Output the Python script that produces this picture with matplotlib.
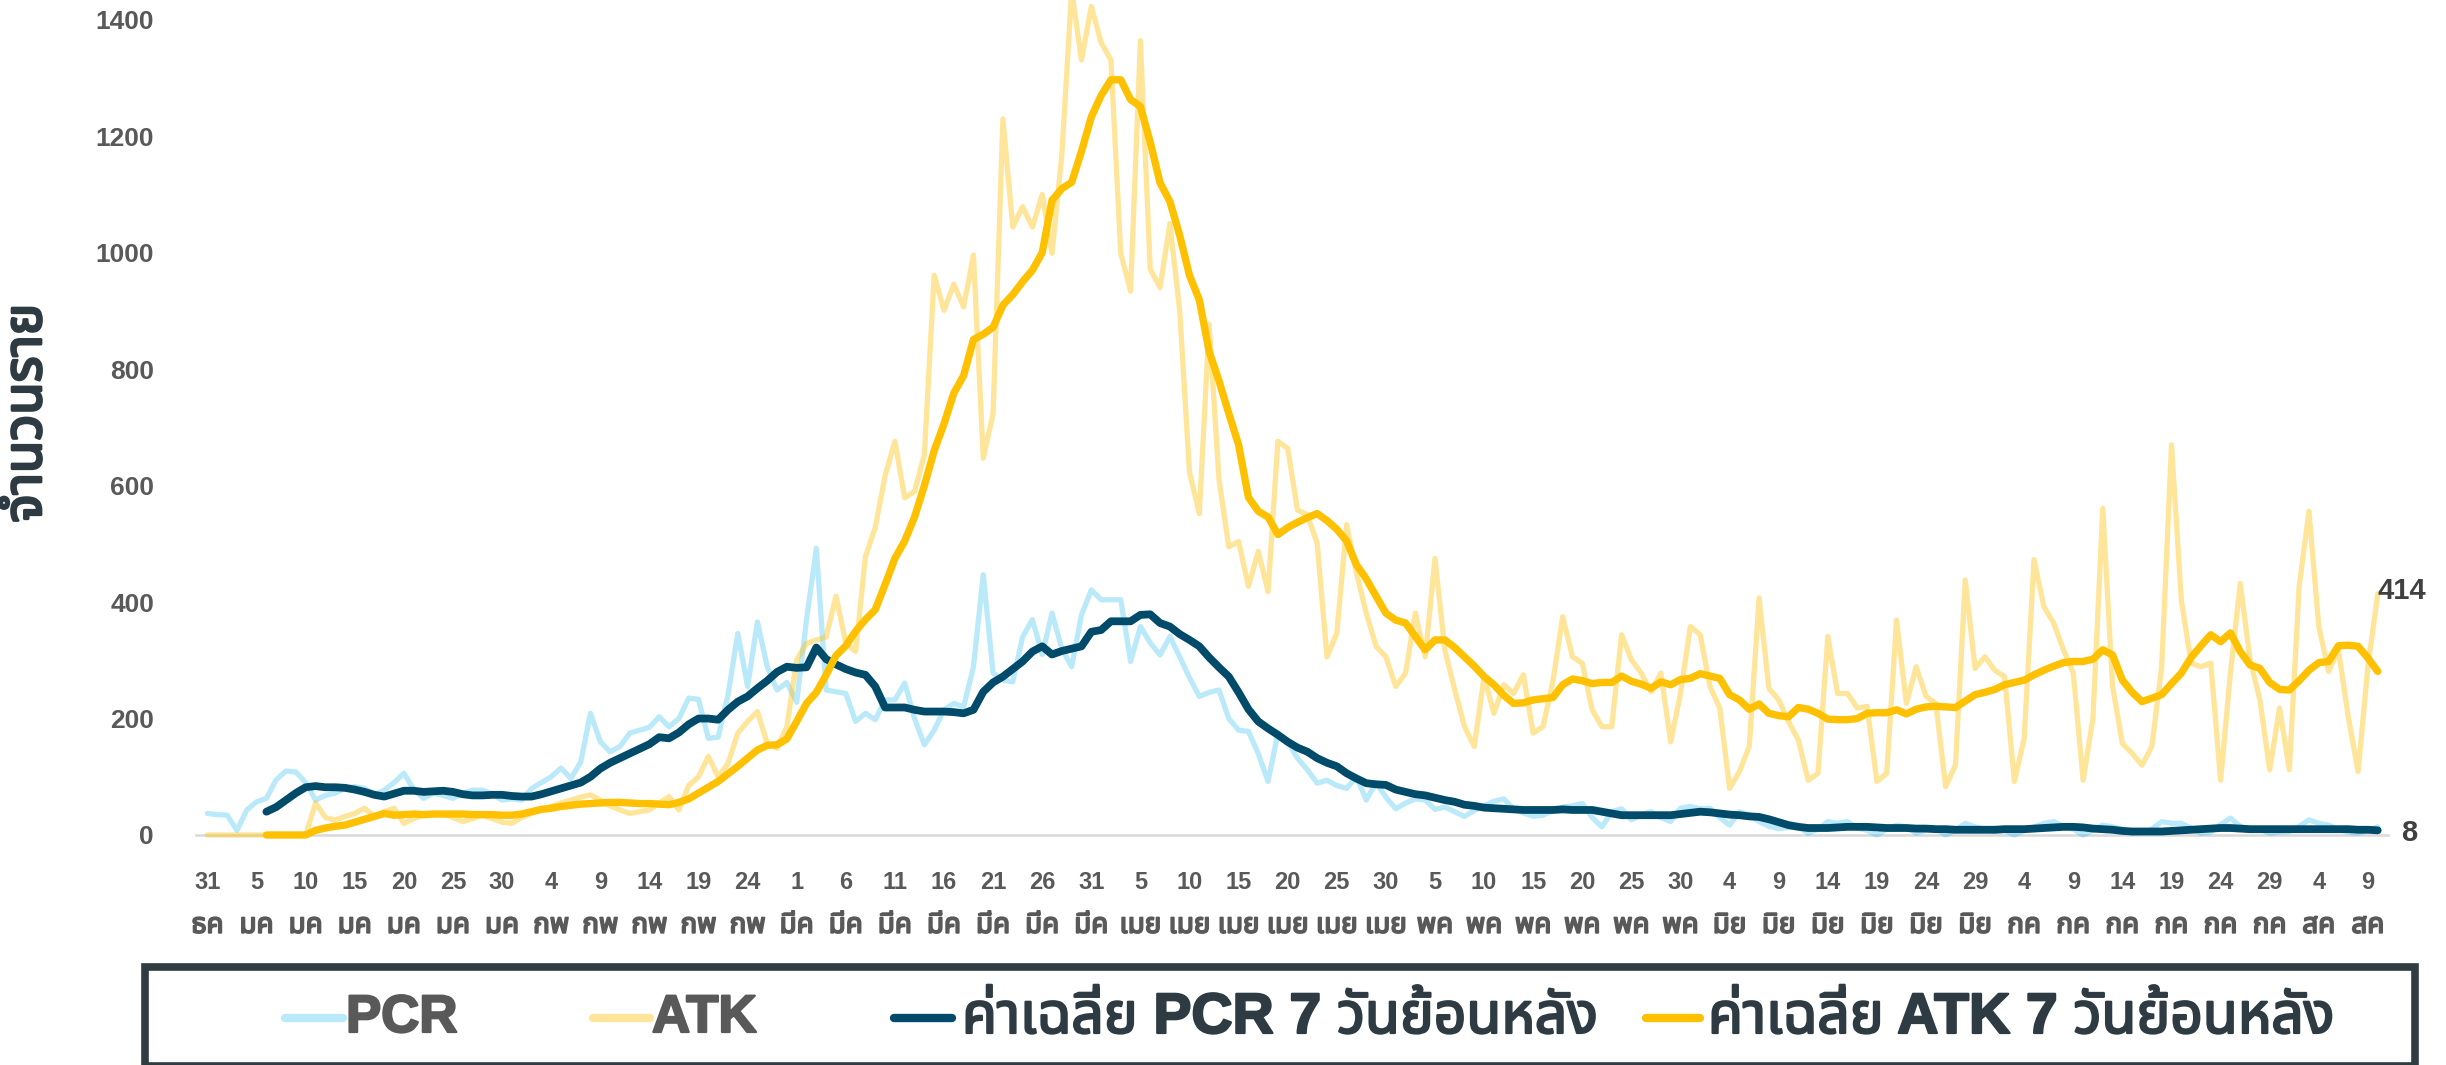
import numpy as np
import matplotlib
matplotlib.use("Agg")
import matplotlib.pyplot as plt
from matplotlib import font_manager as fm
from matplotlib.lines import Line2D
from matplotlib.patches import Rectangle
import matplotlib.patheffects as pe

# ---------------- data ----------------
day_labels = ["31", "5", "10", "15", "20", "25", "30", "4", "9", "14", "19", "24",
              "1", "6", "11", "16", "21", "26", "31", "5", "10", "15", "20", "25", "30",
              "5", "10", "15", "20", "25", "30", "4", "9", "14", "19", "24", "29",
              "4", "9", "14", "19", "24", "29", "4", "9"]
month_labels = ["ธค", "มค", "มค", "มค", "มค", "มค", "มค", "กพ", "กพ", "กพ", "กพ", "กพ",
                "มีค", "มีค", "มีค", "มีค", "มีค", "มีค", "มีค", "เมย", "เมย", "เมย", "เมย", "เมย", "เมย",
                "พค", "พค", "พค", "พค", "พค", "พค", "มิย", "มิย", "มิย", "มิย", "มิย", "มิย",
                "กค", "กค", "กค", "กค", "กค", "กค", "สค", "สค"]

pcr = [37, 35, 34, 8, 43, 57, 63, 95, 110, 108, 90, 60, 68, 72, 80, 83, 80, 69, 77, 90,
       106, 78, 63, 72, 68, 63, 72, 77, 77, 70, 60, 62, 60, 80, 90, 100, 115, 97, 125, 209,
       160, 143, 152, 175, 180, 185, 203, 186, 200, 235, 233, 166, 168, 240, 346, 255, 366, 289, 249, 262,
       228, 370, 492, 249, 246, 243, 195, 209, 198, 232, 232, 261, 200, 155, 180, 215, 226, 220, 289, 447,
       278, 266, 263, 340, 370, 310, 381, 320, 289, 378, 421, 404, 404, 404, 298, 358, 330, 309, 341, 306,
       270, 238, 245, 249, 200, 180, 178, 140, 92, 175, 160, 132, 112, 89, 94, 85, 80, 100, 60, 90,
       65, 45, 55, 62, 60, 44, 48, 40, 32, 42, 50, 58, 62, 45, 38, 32, 34, 42, 48, 50,
       54, 30, 14, 40, 45, 26, 35, 40, 30, 23, 46, 49, 45, 46, 30, 17, 40, 35, 23, 15,
       11, 13, 14, 3, 10, 23, 20, 23, 12, 8, 0, 10, 17, 14, 3, 8, 12, 0, 8, 20,
       14, 10, 6, 8, 0, 8, 14, 20, 23, 15, 10, 0, 8, 17, 14, 10, 3, 5, 10, 23,
       20, 20, 12, 3, 5, 18, 29, 15, 8, 10, 3, 5, 6, 15, 26, 20, 17, 10, 5, 3,
       8, 14]

atk = [0, 0, 0, 0, 0, 0, 0, 0, 0, 0, 0, 55, 30, 26, 32, 37, 46, 31, 40, 46,
       20, 28, 34, 35, 37, 30, 23, 28, 34, 28, 22, 20, 30, 37, 43, 49, 55, 60, 65, 69,
       60, 50, 43, 37, 40, 43, 55, 66, 43, 85, 100, 135, 100, 123, 175, 195, 212, 157, 149, 186,
       301, 329, 335, 340, 410, 330, 315, 478, 528, 617, 676, 579, 590, 653, 961, 901, 946, 907, 996, 647,
       724, 1230, 1044, 1079, 1044, 1100, 999, 1168, 1450, 1331, 1423, 1361, 1331, 999, 934, 1364, 972, 940, 1050, 901,
       623, 552, 877, 611, 495, 504, 427, 487, 418, 676, 664, 558, 550, 501, 306, 346, 533, 450, 381, 324,
       306, 255, 278, 381, 306, 475, 318, 250, 186, 152, 272, 209, 258, 243, 275, 175, 186, 263, 375, 306,
       295, 215, 186, 186, 344, 301, 278, 246, 278, 160, 243, 358, 344, 255, 218, 80, 109, 152, 407, 252,
       232, 195, 163, 94, 106, 341, 243, 243, 218, 221, 92, 106, 369, 226, 289, 238, 226, 83, 120, 438,
       286, 306, 283, 272, 92, 166, 473, 392, 364, 318, 278, 94, 200, 561, 255, 157, 140, 120, 152, 289,
       670, 404, 295, 289, 295, 94, 278, 432, 301, 232, 112, 218, 112, 427, 556, 358, 281, 318, 203, 109,
       289, 414]

pcr_avg = [None] * 6 + [
    40, 48, 60, 72, 82, 84, 82, 82, 81, 78, 74, 69, 66, 71,
    76, 76, 74, 75, 76, 74, 70, 68, 68, 69, 69, 67, 66, 66, 70, 75, 80, 85, 90, 100,
    114, 124, 132, 140, 148, 156, 168, 166, 176, 190, 200, 200, 198, 215, 229, 238, 252, 265, 280, 289,
    287, 288, 322, 302, 293, 285, 279, 275, 255, 219, 219, 219, 215, 212, 212, 212, 211, 209, 215, 246,
    262, 272, 285, 298, 315, 324, 310, 316, 320, 324, 349, 352, 367, 367, 367, 378, 379, 364, 358, 345,
    335, 324, 305, 288, 272, 245, 216, 195, 183, 172, 160, 150, 143, 132, 124, 118, 106, 97, 89, 87,
    86, 78, 74, 70, 68, 64, 60, 57, 52, 50, 47, 46, 45, 44, 43, 43, 43, 43, 44, 43,
    43, 43, 40, 37, 34, 34, 34, 34, 34, 34, 36, 38, 40, 39, 37, 35, 34, 32, 31, 27,
    22, 17, 14, 12, 12, 12, 13, 14, 14, 14, 13, 12, 12, 12, 11, 11, 10, 10, 9, 9,
    9, 9, 9, 10, 10, 10, 11, 12, 13, 14, 14, 13, 11, 10, 9, 7, 6, 6, 6, 6,
    7, 8, 9, 10, 11, 12, 12, 11, 10, 10, 10, 10, 10, 10, 10, 10, 10, 10, 10, 9,
    9, 8]

atk_avg = [None] * 6 + [
    0, 0, 0, 0, 0, 8, 12, 15, 17, 22, 27, 32, 37, 34,
    35, 36, 35, 36, 36, 36, 36, 35, 35, 35, 34, 34, 36, 40, 44, 46, 49, 51, 53, 54,
    55, 56, 56, 55, 54, 54, 53, 52, 56, 62, 72, 82, 92, 105, 118, 132, 146, 154, 155, 165,
    195, 226, 245, 275, 308, 325, 350, 370, 387, 430, 475, 505, 546, 600, 660, 706, 759, 789, 851, 860,
    872, 910, 928, 950, 970, 1000, 1090, 1110, 1121, 1174, 1233, 1270, 1297, 1297, 1263, 1251, 1190, 1120, 1088, 1030,
    961, 919, 830, 780, 724, 670, 580, 556, 546, 516, 528, 537, 545, 552, 540, 525, 505, 464, 440, 410,
    381, 369, 364, 341, 318, 335, 335, 322, 306, 290, 272, 258, 240, 226, 227, 232, 234, 236, 258, 268,
    265, 260, 262, 262, 273, 264, 259, 252, 263, 258, 267, 269, 277, 273, 269, 241, 232, 216, 225, 209,
    205, 203, 219, 216, 209, 199, 198, 198, 200, 209, 210, 210, 215, 208, 216, 220, 221, 220, 219, 230,
    241, 245, 250, 258, 262, 266, 275, 283, 290, 296, 298, 298, 302, 318, 309, 266, 245, 229, 235, 241,
    260, 278, 305, 325, 344, 332, 347, 315, 292, 286, 262, 250, 249, 265, 283, 296, 298, 325, 326, 324,
    304, 281]

series_names = ["PCR", "ATK", "ค่าเฉลี่ย PCR 7 วันย้อนหลัง", "ค่าเฉลี่ย ATK 7 วันย้อนหลัง"]
y_label = "จำนวนราย"
y_ticks = [0, 200, 400, 600, 800, 1000, 1200, 1400]

# ---------------- fonts ----------------
def available(name):
    return any(f.name == name for f in fm.fontManager.ttflist)

def thai_family():
    try:
        from fontTools.ttLib import TTFont
    except Exception:
        return None
    seen = {}
    for fe in fm.fontManager.ttflist:
        if fe.name in seen or "CJK" in fe.name:
            continue
        ok = False
        try:
            tt = TTFont(fe.fname, fontNumber=0, lazy=True)
            cm = tt.getBestCmap() or {}
            ok = (0x0E04 in cm and 0x0E27 in cm and 0x0E48 in cm)
            tt.close()
        except Exception:
            ok = False
        seen[fe.name] = ok
    cands = [n for n, ok in seen.items() if ok]
    def rank(n):
        order = ["Noto Sans Thai", "Noto Sans Thai UI", "Loma", "Garuda", "Waree", "Sarabun",
                 "Tlwg Typo", "Umpush", "Kinnari", "Norasi"]
        return order.index(n) if n in order else (50 if "Looped" not in n else 80)
    cands.sort(key=rank)
    return cands[0] if cands else None

latin = "Liberation Sans" if available("Liberation Sans") else "DejaVu Sans"
thai = thai_family()
fam = [latin] + ([thai] if thai else []) + ["DejaVu Sans"]
plt.rcParams["font.family"] = fam

def stroke(color, w=1.0):
    return [pe.withStroke(linewidth=w, foreground=color)]

# ---------------- figure ----------------
W, H = 2446, 1065
fig = plt.figure(figsize=(W / 100, H / 100), dpi=100)
x0 = 207.5
dx = 9.82
xmin, xmax = -1.2, 222.0
y_zero_px = 835.0
ytop = 1434.0
ax = fig.add_axes([(x0 + xmin * dx) / W, (H - y_zero_px) / H,
                   (xmax - xmin) * dx / W, y_zero_px / H])
ax.set_xlim(xmin, xmax)
ax.set_ylim(0, ytop)

x = np.arange(len(pcr))
pcr_avg_a = np.array([np.nan if v is None else v for v in pcr_avg], dtype=float)
atk_avg_a = np.array([np.nan if v is None else v for v in atk_avg], dtype=float)

c_pcr = "#00B0F0"
c_atk = "#FFC000"
c_pcr_avg = "#004A6A"
c_atk_avg = "#FFC000"

ax.plot(x, pcr, color=c_pcr, alpha=0.27, lw=3.8, solid_joinstyle="round",
        solid_capstyle="round", clip_on=False, zorder=2)
ax.plot(x, atk, color=c_atk, alpha=0.4, lw=3.8, solid_joinstyle="round",
        solid_capstyle="round", clip_on=False, zorder=3)
ax.plot(x, pcr_avg_a, color=c_pcr_avg, lw=5.6, solid_joinstyle="round",
        solid_capstyle="round", clip_on=False, zorder=4)
ax.plot(x, atk_avg_a, color=c_atk_avg, lw=5.3, solid_joinstyle="round",
        solid_capstyle="round", clip_on=False, zorder=5)

# end labels
ax.annotate(str(atk[-1]), xy=(x[-1], atk[-1]), xytext=(17, 2), textcoords="offset points",
            ha="center", va="center", fontsize=21, fontweight="bold", color="#404040")
ax.annotate(str(pcr_avg[-1]), xy=(x[-1], pcr_avg[-1]), xytext=(23, -2), textcoords="offset points",
            ha="center", va="center", fontsize=21, fontweight="bold", color="#404040")

# axes styling
for s in ["top", "right", "left"]:
    ax.spines[s].set_visible(False)
ax.spines["bottom"].set_color("#D9D9D9")
ax.spines["bottom"].set_linewidth(1.8)
ax.spines["bottom"].set_zorder(1)

ax.set_yticks(y_ticks)
ax.set_yticklabels([str(v) for v in y_ticks])
ax.tick_params(axis="y", length=0, pad=30, labelsize=19, labelcolor="#595959")
for t in ax.get_yticklabels():
    t.set_fontweight("bold")

tick_pos = np.arange(0, 5 * len(day_labels), 5)
ax.set_xticks(tick_pos)
ax.set_xticklabels(day_labels)
ax.set_xticks(tick_pos, minor=True)
ax.set_xticklabels(month_labels, minor=True)
ax.xaxis.remove_overlapping_locs = False
ax.tick_params(axis="x", which="major", length=0, pad=26, labelsize=17, labelcolor="#595959")
ax.tick_params(axis="x", which="minor", length=0, pad=56, labelsize=20, labelcolor="#595959")
for t in ax.get_xticklabels():
    t.set_fontweight("bold")
for t in ax.get_xticklabels(minor=True):
    t.set_fontweight("bold")
    t.set_path_effects(stroke("#595959", 1.3))

fig.text(27 / W, 1 - 413 / H, y_label, rotation=90, ha="center", va="center",
         fontsize=38, fontweight="bold", color="#2E3B42", path_effects=stroke("#2E3B42", 2.0))

# ---------------- legend box ----------------
def fx(px):
    return px / W

def fy(py):
    return 1 - py / H

box = Rectangle((fx(145), fy(1066)), fx(2415) - fx(145), fy(967) - fy(1066),
                transform=fig.transFigure, fill=False, edgecolor="#2F3C42", lw=5.5, zorder=10)
fig.add_artist(box)

ly = 1018
entries = [
    (285, 343, 346, series_names[0], c_pcr, 0.27, "#595959", 38),
    (593, 650, 652, series_names[1], c_atk, 0.4, "#595959", 38),
    (894, 952, 962, series_names[2], c_pcr_avg, 1.0, "#2E3B42", 41),
    (1646, 1700, 1708, series_names[3], c_atk_avg, 1.0, "#2E3B42", 41),
]
for xa, xb, xt, label, col, al, tc, fs in entries:
    fig.add_artist(Line2D([fx(xa), fx(xb)], [fy(ly), fy(ly)], transform=fig.transFigure,
                          color=col, alpha=al, lw=6, solid_capstyle="round"))
    fig.text(fx(xt), fy(ly), label, ha="left", va="center", fontsize=fs,
             fontweight="bold", color=tc, path_effects=stroke(tc, 1.6))

fig.savefig("out.png", dpi=100, facecolor="white")
